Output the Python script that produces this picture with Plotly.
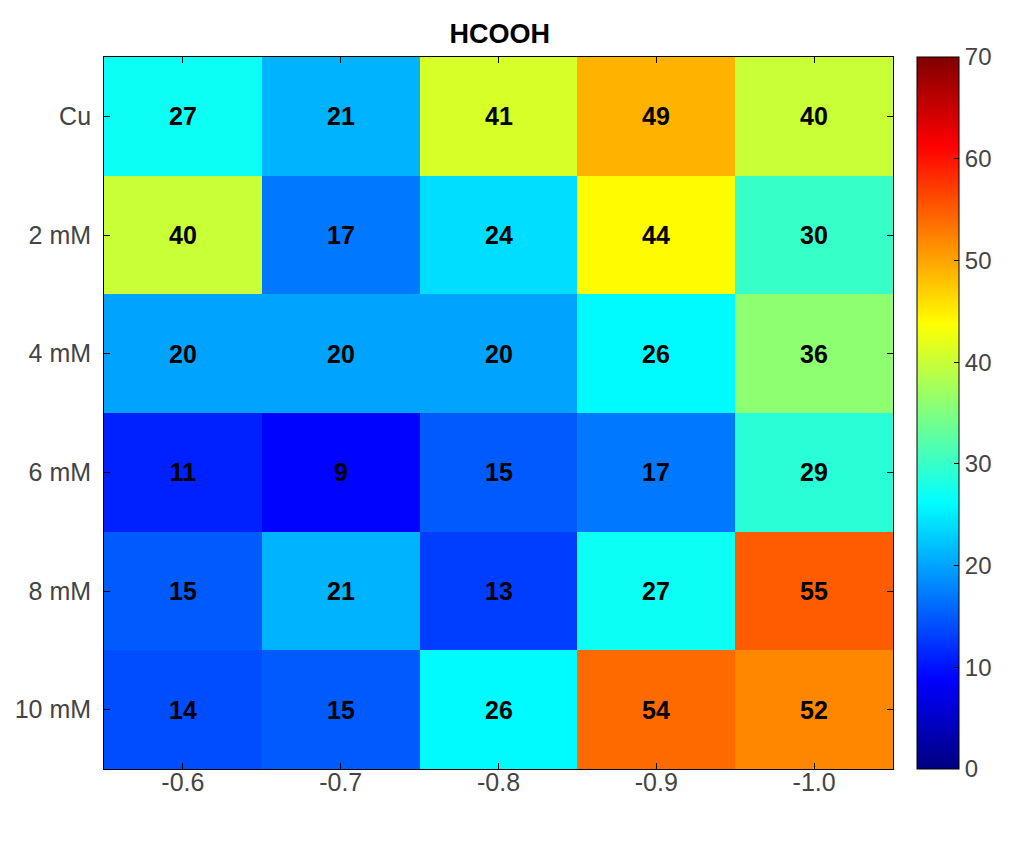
import plotly.graph_objects as go

# potenciais (eixo x) e concentrações (eixo y)
potenciais = ["-0.6", "-0.7", "-0.8", "-0.9", "-1.0"]
amostras = ["Cu", "2 mM", "4 mM", "6 mM", "8 mM", "10 mM"]

# valores de HCOOH por linha
cu = [27, 21, 41, 49, 40]
mm2 = [40, 17, 24, 44, 30]
mm4 = [20, 20, 20, 26, 36]
mm6 = [11, 9, 15, 17, 29]
mm8 = [15, 21, 13, 27, 55]
mm10 = [14, 15, 26, 54, 52]

cbar_ticks = [0, 10, 20, 30, 40, 50, 60, 70]

z = [cu, mm2, mm4, mm6, mm8, mm10]

# colormap jet do MATLAB
jet = [
    [0.0, "rgb(0,0,128)"],
    [0.125, "rgb(0,0,255)"],
    [0.375, "rgb(0,255,255)"],
    [0.625, "rgb(255,255,0)"],
    [0.875, "rgb(255,0,0)"],
    [1.0, "rgb(128,0,0)"],
]

fonte = "Liberation Sans, Arial, sans-serif"
cinza = "#444444"

fig = go.Figure()
fig.add_trace(go.Heatmap(
    x=potenciais, y=amostras, z=z,
    zmin=0, zmax=70, colorscale=jet,
    text=z, texttemplate="<b>%{text}</b>",
    textfont=dict(family=fonte, size=25, color="black"),
    colorbar=dict(
        x=1.03, xanchor="left", xpad=0, ypad=0,
        y=0.5, yanchor="middle", len=1, lenmode="fraction",
        thickness=42, outlinecolor="black", outlinewidth=1,
        tickvals=cbar_ticks, ticks="inside", ticklen=5, tickcolor="black",
        tickprefix="\u00a0",
        tickfont=dict(family=fonte, size=24, color=cinza),
    ),
))

# a página tem margem de 8px, por isso a figura é um pouco menor
fig.update_layout(
    width=1016, height=840,
    margin=dict(l=96, r=131, t=49, b=79),
    paper_bgcolor="white", plot_bgcolor="white",
    title=dict(text="<b>HCOOH</b>", x=0.484, xanchor="center", y=0.970, yanchor="middle",
               font=dict(family=fonte, size=27, color="black")),
    font=dict(family=fonte),
)
fig.update_xaxes(showline=True, linecolor="black", linewidth=1, mirror="ticks",
                 ticks="inside", ticklen=6, tickcolor="black", automargin=False,
                 ticklabelstandoff=-9,
                 tickfont=dict(family=fonte, size=25, color=cinza), showgrid=False)
fig.update_yaxes(showline=True, linecolor="black", linewidth=1, mirror="ticks",
                 ticks="inside", ticklen=6, tickcolor="black", autorange="reversed",
                 automargin=False,
                 tickfont=dict(family=fonte, size=25, color=cinza), showgrid=False,
                 ticksuffix=" ")

fig.write_html("out.html")
